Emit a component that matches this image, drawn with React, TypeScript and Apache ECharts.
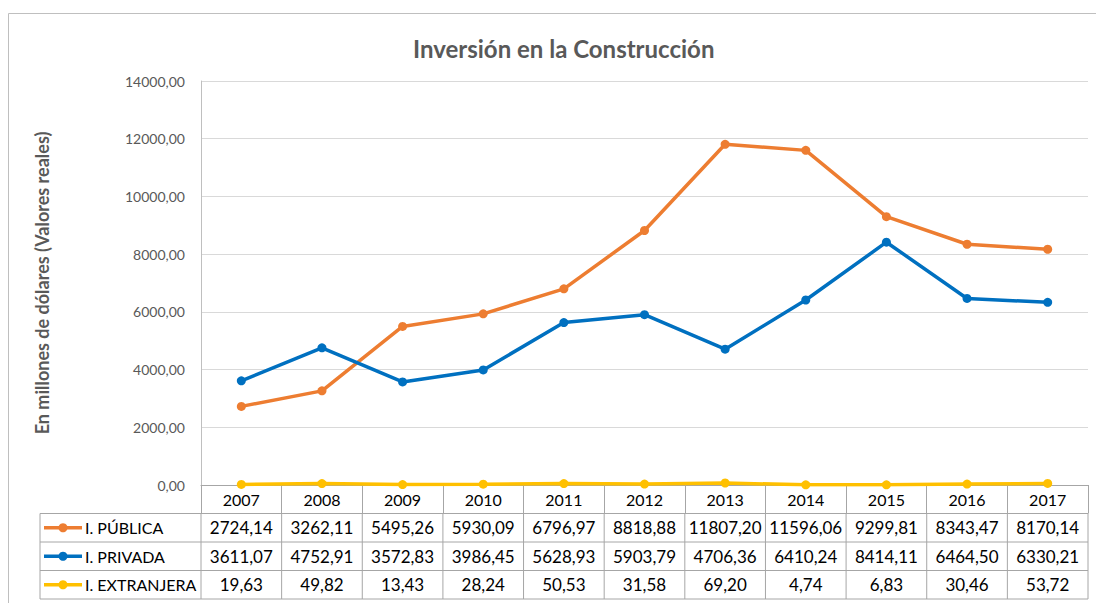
import React, { useEffect, useRef } from "react";
import * as echarts from "echarts";

const years = ["2007", "2008", "2009", "2010", "2011", "2012", "2013", "2014", "2015", "2016", "2017"];
const publica = [2724.14, 3262.11, 5495.26, 5930.09, 6796.97, 8818.88, 11807.2, 11596.06, 9299.81, 8343.47, 8170.14];
const privada = [3611.07, 4752.91, 3572.83, 3986.45, 5628.93, 5903.79, 4706.36, 6410.24, 8414.11, 6464.5, 6330.21];
const extranjera = [19.63, 49.82, 13.43, 28.24, 50.53, 31.58, 69.2, 4.74, 6.83, 30.46, 53.72];
const seriesNames = ["I. PÚBLICA", "I. PRIVADA", "I. EXTRANJERA"];
const seriesColors = ["#ED7D31", "#0070C0", "#FFC000"];
const titleText = "Inversión en la Construcción";
const yAxisName = "En millones de dólares (Valores reales)";
const yMin = 0;
const yMax = 14000;
const yStep = 2000;

const FONT = "Lato, 'Open Sans', sans-serif";
const W = 1096;
const H = 603;
const GRID = { left: 201, right: 8, top: 81, bottom: 118 };
const ROW_H = 28.5;
const LEGEND_LEFT = 40;
const BORDER = "#a6a6a6";

const fmt = (v: number) => v.toFixed(2).replace(".", ",");

export default function App() {
  const ref = useRef<HTMLDivElement>(null);
  useEffect(() => {
    document.body.style.margin = "0";
    if (!ref.current) return;
    const chart = echarts.init(ref.current, undefined, { renderer: "svg" });
    const allSeries = [publica, privada, extranjera];

    const plotLeft = GRID.left;
    const plotRight = W - GRID.right;
    const axisY = H - GRID.bottom;
    const cw = (plotRight - plotLeft) / years.length;
    const tableTop = axisY + ROW_H;
    const tableBottom = tableTop + ROW_H * allSeries.length;

    const graphics: any[] = [];
    graphics.push({
      type: "rect",
      silent: true,
      z: -10,
      shape: { x: 8.5, y: 13.5, width: 1200, height: 700 },
      style: { fill: "none", stroke: "#bfbfbf", lineWidth: 1 },
    });
    for (let r = 0; r <= allSeries.length; r++) {
      const y = tableTop + r * ROW_H;
      graphics.push({
        type: "line",
        silent: true,
        shape: { x1: LEGEND_LEFT, y1: y, x2: plotRight, y2: y },
        style: { stroke: BORDER, lineWidth: 1 },
      });
    }
    graphics.push({
      type: "line",
      silent: true,
      shape: { x1: LEGEND_LEFT, y1: tableTop, x2: LEGEND_LEFT, y2: tableBottom },
      style: { stroke: BORDER, lineWidth: 1 },
    });
    for (let k = 0; k <= years.length; k++) {
      const x = plotLeft + k * cw;
      graphics.push({
        type: "line",
        silent: true,
        shape: { x1: x, y1: tableTop, x2: x, y2: tableBottom },
        style: { stroke: BORDER, lineWidth: 1 },
      });
    }
    allSeries.forEach((vals, r) => {
      const cy = tableTop + r * ROW_H + ROW_H / 2;
      graphics.push({
        type: "line",
        silent: true,
        shape: { x1: 44, y1: cy, x2: 82, y2: cy },
        style: { stroke: seriesColors[r], lineWidth: 3.5 },
      });
      graphics.push({
        type: "circle",
        silent: true,
        shape: { cx: 63, cy, r: 4.5 },
        style: { fill: seriesColors[r] },
      });
      graphics.push({
        type: "text",
        silent: true,
        x: 85,
        y: cy,
        style: {
          text: seriesNames[r],
          fontFamily: FONT,
          fontSize: 16,
          fill: "#000",
          align: "left",
          verticalAlign: "middle",
        },
      });
      vals.forEach((v, i) => {
        graphics.push({
          type: "text",
          silent: true,
          x: plotLeft + (i + 0.5) * cw,
          y: cy,
          style: {
            text: fmt(v),
            fontFamily: FONT,
            fontSize: 17,
            fill: "#000",
            align: "center",
            verticalAlign: "middle",
          },
        });
      });
    });

    chart.setOption({
      animation: false,
      textStyle: { fontFamily: FONT },
      title: {
        text: titleText,
        left: 408,
        top: 31,
        textStyle: { fontFamily: FONT, fontSize: 24, fontWeight: "bold", color: "#595959" },
      },
      grid: { ...GRID, containLabel: false },
      xAxis: {
        type: "category",
        data: years,
        boundaryGap: true,
        axisLine: { show: true, lineStyle: { color: BORDER, width: 1 } },
        axisTick: { show: true, length: ROW_H, interval: 0, lineStyle: { color: BORDER } },
        axisLabel: { fontFamily: FONT, fontSize: 16, color: "#000", margin: 6, interval: 0 },
        splitLine: { show: false },
      },
      yAxis: {
        type: "value",
        min: yMin,
        max: yMax,
        interval: yStep,
        name: yAxisName,
        nameLocation: "middle",
        nameRotate: 90,
        nameGap: 150,
        nameTextStyle: { fontFamily: FONT, fontSize: 18, fontWeight: "bold", color: "#595959" },
        axisLine: { show: true, lineStyle: { color: "#bfbfbf" } },
        axisTick: { show: false },
        axisLabel: {
          fontFamily: FONT,
          fontSize: 14,
          color: "#595959",
          margin: 16,
          formatter: (v: number) => fmt(v),
        },
        splitLine: { show: true, lineStyle: { color: "#d9d9d9", width: 1 } },
      },
      series: allSeries.map((vals, r) => ({
        name: seriesNames[r],
        type: "line",
        data: vals,
        symbol: "circle",
        symbolSize: 9,
        lineStyle: { color: seriesColors[r], width: 3.5 },
        itemStyle: { color: seriesColors[r] },
        z: 2 + r,
      })),
      graphic: graphics,
    });
    return () => chart.dispose();
  }, []);
  return <div ref={ref} style={{ width: W, height: H }} />;
}
